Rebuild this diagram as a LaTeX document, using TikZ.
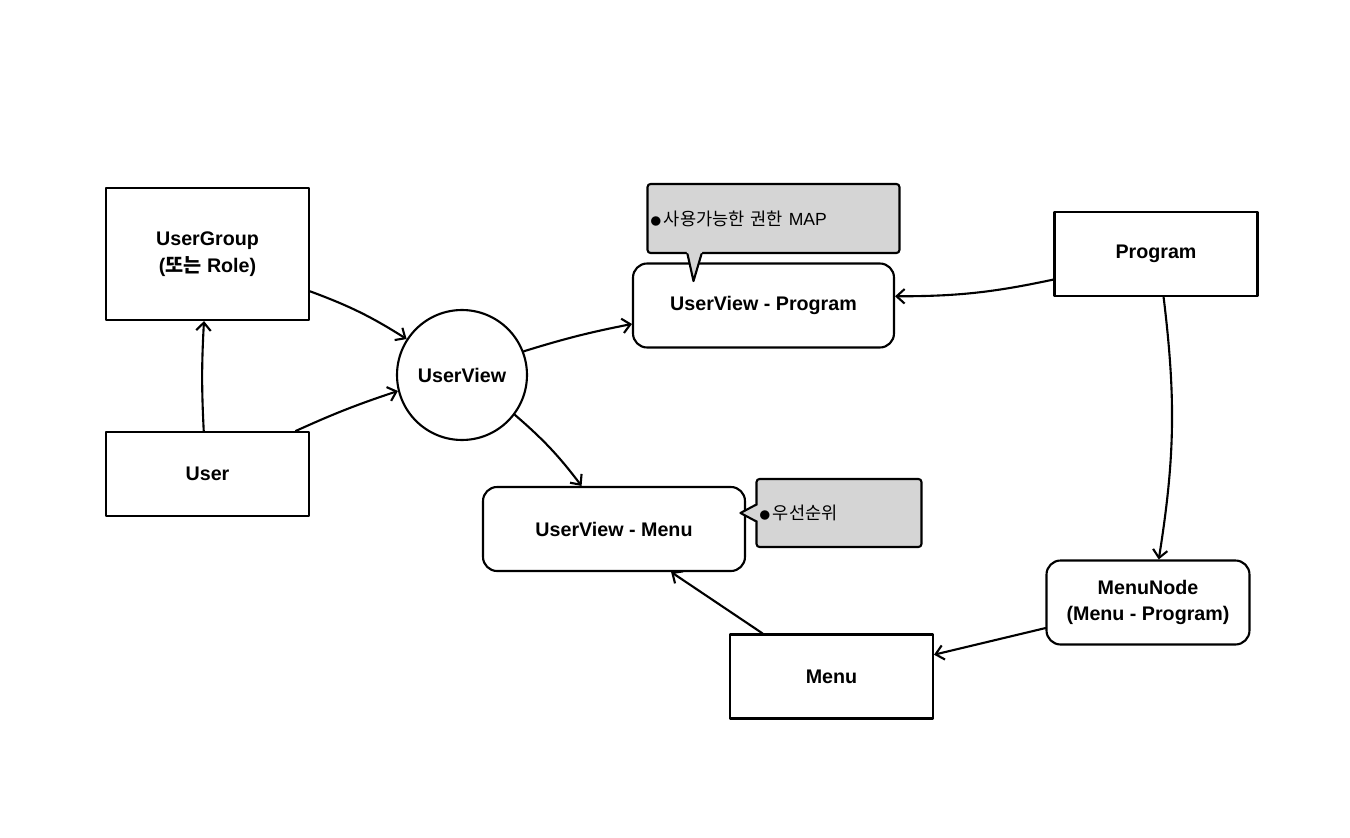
\documentclass[tikz,border=0pt]{standalone}
\usepackage{fontspec}
\setmainfont{Liberation Sans}
\newfontfamily\kr{Noto Sans CJK KR}
\usetikzlibrary{arrows.meta,calc}
\definecolor{notegray}{RGB}{213,213,213}
\newcommand\bul{{\kr\fontsize{6}{6}\selectfont ●}\,}
\tikzset{
 box/.style={draw, line width=1.2pt, minimum width=4.06cm, minimum height=1.68cm, align=center, font=\fontsize{11.2}{15}\selectfont\bfseries},
 rbox/.style={box, rounded corners=0.28cm},
 note/.style={draw, line width=1.2pt, fill=notegray, rounded corners=0.06cm, align=left, inner xsep=0.06cm, font=\fontsize{10}{12}\selectfont},
 link/.style={-{Straight Barb[length=1.6mm,width=2.9mm]}, line width=1.2pt},
}
\begin{document}
\begin{tikzpicture}[x=0.02cm, y=-0.02cm, line join=round, line cap=round]
 \useasboundingbox (0,0) rectangle (1350,838);
 \node[box, minimum height=2.64cm] (group) at (207.5,254) {UserGroup\\({\kr 또는} Role)};
 \node[box] (user) at (207.5,474) {User};
 \node[box, circle, minimum size=2.6cm, minimum width=2.6cm, minimum height=2.6cm] (uv) at (462,375) {UserView};
 \node[rbox, minimum width=5.22cm] (uvp) at (763.5,305.5) {UserView - Program};
 \node[box] (prog) at (1156,254) {Program};
 \node[rbox, minimum width=5.24cm] (uvm) at (614,529) {UserView - Menu};
 \node[rbox] (mnode) at (1148,602.5) {MenuNode\\(Menu - Program)};
 \node[box] (menu) at (831.5,676.5) {Menu};
 \node[note, text width=4.92cm, minimum height=1.38cm] (map) at (773.5,218.5) {{\kr\bul 사용가능한 권한} MAP};
 \fill[notegray] ($(map.south)+(-87,-3)$) -- ($(map.south)+(-80,27)$) -- ($(map.south)+(-71,-3)$) -- cycle;
 \draw[line width=1.2pt] ($(map.south)+(-86,0)$) -- ($(map.south)+(-80,27)$) -- ($(map.south)+(-72,0)$);
 \node[note, text width=3.18cm, minimum height=1.36cm] (order) at (839,513) {{\kr\bul 우선순위}};
 \fill[notegray] ($(order.west)+(3,-8)$) -- ($(order.west)+(-15,0)$) -- ($(order.west)+(3,8)$) -- cycle;
 \draw[line width=1.2pt] ($(order.west)+(0,-8)$) -- ($(order.west)+(-15,0)$) -- ($(order.west)+(0,8)$);
 \draw[link] (user.95) to[bend left=3] (group.267);
 \draw[link] (group.-20) to[bend left=6] (uv.147);
 \draw[link] (user.26) to[bend left=3] (uv.194);
 \draw[link] (uv.21) to[bend left=3] (uvp.188);
 \draw[link] (prog.194) to[bend left=6] (uvp.4);
 \draw[link] (uv.-37) to[bend left=6] (uvm.127);
 \draw[link] (prog.-80) to[bend left=8] (mnode.76);
 \draw[link] (mnode.194) -- (menu.12);
 \draw[link] (menu.148) -- (uvm.-37);
\end{tikzpicture}
\end{document}
